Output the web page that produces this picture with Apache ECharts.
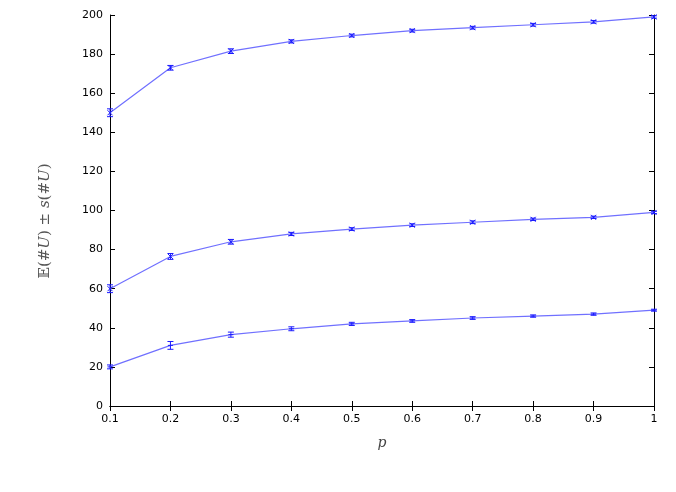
<!DOCTYPE html>
<html><head><meta charset="utf-8">
<script src="https://cdn.jsdelivr.net/npm/echarts@6/dist/echarts.min.js"></script>
<style>html,body{margin:0;padding:0;background:#fff}#c{width:676px;height:492px}</style>
</head><body><div id="c"></div>
<script>
const pValues = [0.1,0.2,0.3,0.4,0.5,0.6,0.7,0.8,0.9,1.0];
const topMean = [150,173,181.5,186.5,189.5,192,193.5,195,196.5,199];
const topErr  = [2,1.2,1.2,0.8,0.7,0.7,0.7,0.7,0.7,0.6];
const midMean = [60,76.5,84,88,90.5,92.5,94,95.5,96.5,99];
const midErr  = [2,1.5,1.2,0.8,0.7,0.7,0.7,0.6,0.6,0.6];
const lowMean = [20,31,36.5,39.5,42,43.5,45,46,47,49];
const lowErr  = [1,2,1.3,1,0.8,0.7,0.7,0.6,0.6,0.5];
const yTicks = [0,20,40,60,80,100,120,140,160,180,200];

const chart = echarts.init(document.getElementById('c'));
const lineColor = '#7070ff';
const ptColor = '#1a1aff';

function lineSeries(mean){
  return {type:'line', data: pValues.map((p,i)=>[p,mean[i]]), xAxisIndex:0, yAxisIndex:0,
    symbol:'none', lineStyle:{color:lineColor,width:1.2}, itemStyle:{color:lineColor}, z:2, animation:false};
}
function errSeries(mean, err, cross){
  return {type:'custom', xAxisIndex:0, yAxisIndex:0, z:3, animation:false,
    data: pValues.map((p,i)=>[p, mean[i]-err[i], mean[i]+err[i], mean[i]]),
    renderItem:(params, api)=>{
      const lo = api.coord([api.value(0), api.value(1)]);
      const hi = api.coord([api.value(0), api.value(2)]);
      const c = api.coord([api.value(0), api.value(3)]);
      const w = 3;
      const st = {stroke:ptColor, lineWidth:1};
      const kids = [
        {type:'line', shape:{x1:lo[0],y1:lo[1],x2:hi[0],y2:hi[1]}, style:st},
        {type:'line', shape:{x1:lo[0]-w,y1:lo[1],x2:lo[0]+w,y2:lo[1]}, style:st},
        {type:'line', shape:{x1:hi[0]-w,y1:hi[1],x2:hi[0]+w,y2:hi[1]}, style:st}
      ];
      if (cross){
        kids.push({type:'line', shape:{x1:c[0]-2.5,y1:c[1]-2.5,x2:c[0]+2.5,y2:c[1]+2.5}, style:st});
        kids.push({type:'line', shape:{x1:c[0]-2.5,y1:c[1]+2.5,x2:c[0]+2.5,y2:c[1]-2.5}, style:st});
      } else {
        kids.push({type:'line', shape:{x1:c[0]-2.5,y1:c[1],x2:c[0]+2.5,y2:c[1]}, style:st});
      }
      return {type:'group', children:kids};
    }};
}

const axisLabelStyle = {color:'#000', fontSize:11, fontFamily:'DejaVu Sans, sans-serif'};
chart.setOption({
  animation:false,
  backgroundColor:'#fff',
  grid:{left:110, right:22, top:15, bottom:86},
  graphic:[{
    type:'text', x:45, y:221, rotation:Math.PI/2,
    style:{text:'{n|\u{1D53C}(#}{i|U}{n|) \u00B1 }{i|s}{n|(#}{i|U}{n|)}', align:'center', verticalAlign:'middle',
      rich:{n:{fontFamily:'DejaVu Serif, serif', fontSize:15, fill:'#555'},
            i:{fontFamily:'DejaVu Serif, serif', fontStyle:'italic', fontSize:15, fill:'#555'}}}
  }],
  xAxis:[
    {type:'value', min:0.1, max:1.0, interval:0.1, position:'bottom',
     name:'p', nameLocation:'middle', nameGap:30,
     nameTextStyle:{fontFamily:'DejaVu Serif, serif', fontStyle:'italic', fontSize:14, color:'#444'},
     axisLine:{show:true, lineStyle:{color:'#000', width:1}},
     axisTick:{show:true, inside:true, length:5, lineStyle:{color:'#000'}},
     axisLabel:{...axisLabelStyle, margin:8, formatter:v=>String(+v.toFixed(1))},
     splitLine:{show:false}},
    {type:'value', min:0.1, max:1.0, interval:0.1, position:'top',
     axisLine:{show:true, lineStyle:{color:'#000', width:1}},
     axisTick:{show:true, inside:true, length:5, lineStyle:{color:'#000'}},
     axisLabel:{show:false}, splitLine:{show:false}}
  ],
  yAxis:[
    {type:'value', min:0, max:200, interval:20, position:'left',
     axisLine:{show:true, lineStyle:{color:'#000', width:1}},
     axisTick:{show:true, inside:true, length:5, lineStyle:{color:'#000'}},
     axisLabel:{...axisLabelStyle, margin:7}, splitLine:{show:false}},
    {type:'value', min:0, max:200, interval:20, position:'right',
     axisLine:{show:true, lineStyle:{color:'#000', width:1}},
     axisTick:{show:true, inside:true, length:5, lineStyle:{color:'#000'}},
     axisLabel:{show:false}, splitLine:{show:false}}
  ],
  series:[
    lineSeries(topMean), errSeries(topMean, topErr, true),
    lineSeries(midMean), errSeries(midMean, midErr, true),
    lineSeries(lowMean), errSeries(lowMean, lowErr, false)
  ]
});
</script></body></html>
